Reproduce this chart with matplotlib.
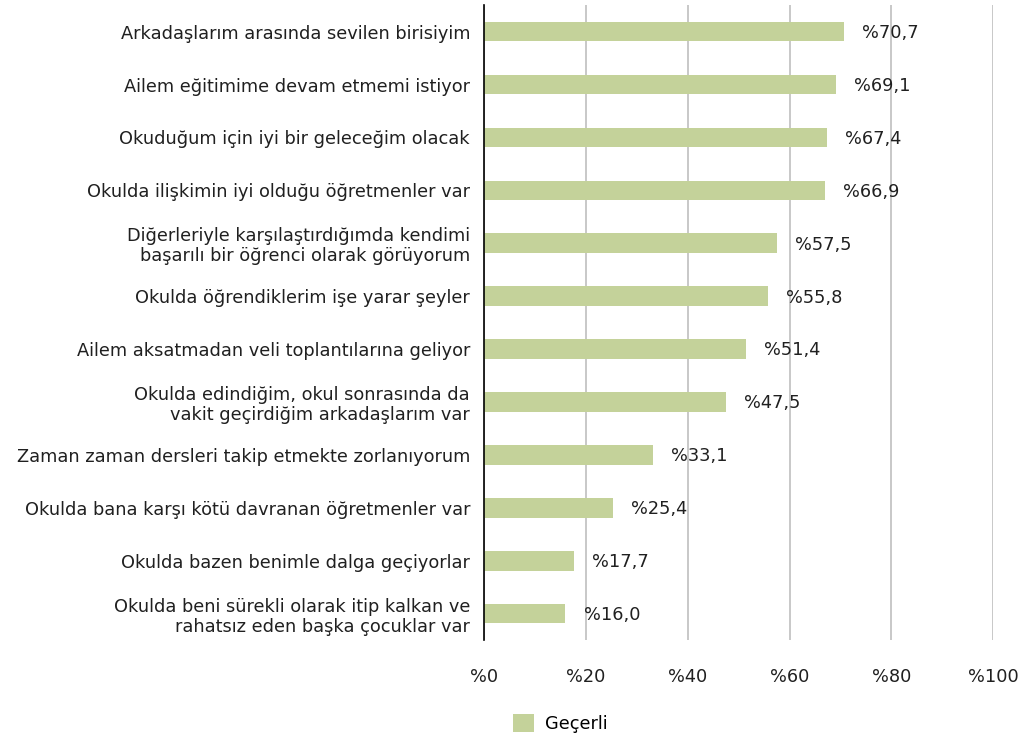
import matplotlib
matplotlib.use("Agg")
import matplotlib.pyplot as plt

labels = [
    "Arkadaşlarım arasında sevilen birisiyim",
    "Ailem eğitimime devam etmemi istiyor",
    "Okuduğum için iyi bir geleceğim olacak",
    "Okulda ilişkimin iyi olduğu öğretmenler var",
    "Diğerleriyle karşılaştırdığımda kendimi\nbaşarılı bir öğrenci olarak görüyorum",
    "Okulda öğrendiklerim işe yarar şeyler",
    "Ailem aksatmadan veli toplantılarına geliyor",
    "Okulda edindiğim, okul sonrasında da\nvakit geçirdiğim arkadaşlarım var",
    "Zaman zaman dersleri takip etmekte zorlanıyorum",
    "Okulda bana karşı kötü davranan öğretmenler var",
    "Okulda bazen benimle dalga geçiyorlar",
    "Okulda beni sürekli olarak itip kalkan ve\nrahatsız eden başka çocuklar var",
]
values = [70.7, 69.1, 67.4, 66.9, 57.5, 55.8, 51.4, 47.5, 33.1, 25.4, 17.7, 16.0]
xticks = [0, 20, 40, 60, 80, 100]
series_name = "Geçerli"

plt.rcParams['font.family'] = ['DejaVu Sans']
fs = 12.8
txt = "#202020"
fig = plt.figure(figsize=(10.28, 7.40), dpi=100)
ax = fig.add_axes([0.4708, 0.135, 0.4955, 0.858])

y = list(range(len(labels)))
bars = ax.barh(y, values, height=0.37, color="#c4d29a", label=series_name, zorder=3)
ax.set_ylim(len(labels) - 0.5, -0.5)
ax.set_xlim(0, 100)

ax.set_yticks(y)
ax.set_yticklabels(labels, fontsize=fs, color=txt, linespacing=1.15)
ax.set_xticks(xticks)
ax.set_xticklabels(["%" + str(t) for t in xticks], fontsize=fs, color=txt)
ax.tick_params(axis="y", length=0, pad=10)
ax.tick_params(axis="x", length=0, pad=20)

for v, yy in zip(values, y):
    ax.annotate("%" + f"{v:.1f}".replace(".", ","), (v, yy), xytext=(13, -1),
                textcoords="offset points", va="center", ha="left",
                fontsize=fs, color=txt)

ax.grid(axis="x", color="#bfbfbf", linewidth=1.2, zorder=0)
for s in ["top", "right", "bottom"]:
    ax.spines[s].set_visible(False)
ax.spines["left"].set_color("black")
ax.spines["left"].set_linewidth(1.2)
ax.spines["left"].set_zorder(4)

fig.legend(handles=[bars], labels=[series_name], loc="center",
           bbox_to_anchor=(0.545, 0.022), frameon=False, fontsize=fs,
           handlelength=1.2, handleheight=1.2, handletextpad=0.6)

fig.savefig("out.png", dpi=100)
